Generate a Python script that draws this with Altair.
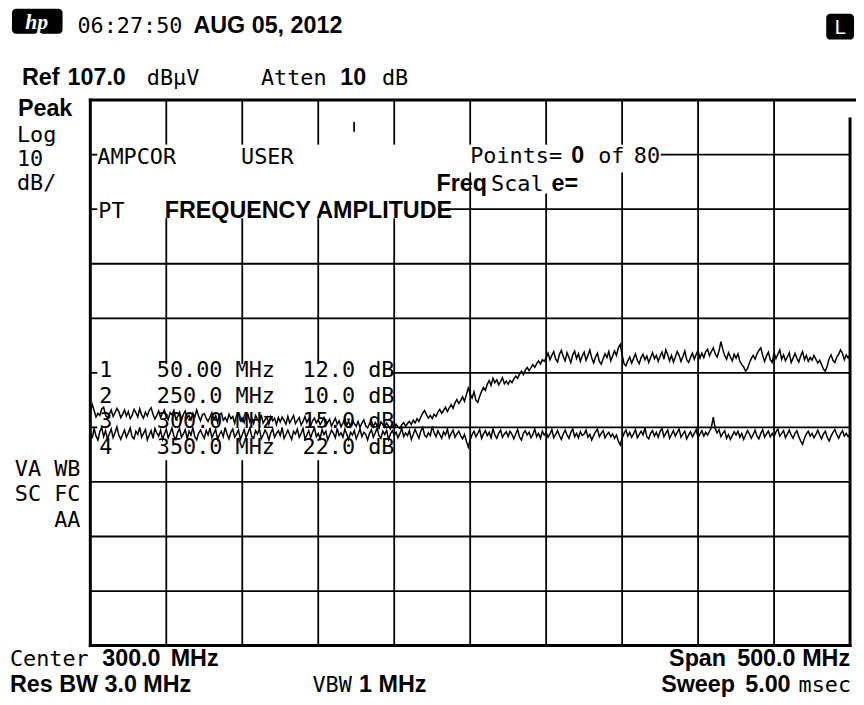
import altair as alt
import pandas as pd
import numpy as np

# ---------------- data (read from the screen) ----------------
# 401-point sweeps, 50 .. 550 MHz, amplitudes in dBuV
# Trace 1 (upper, with amplitude correction applied)
trace_upper = [
    49.8, 51.2, 50.1, 48.9, 49.6, 49.2, 50.4, 50.7, 49.3, 48.7, 49.4, 50.2, 49.0, 49.7, 50.5, 49.9, 48.8, 49.4, 50.2, 49.1,
    49.9, 48.6, 49.2, 50.3, 49.7, 48.9, 50.4, 49.3, 48.7, 49.8, 49.1, 50.1, 50.6, 49.4, 48.5, 49.2, 50.0, 48.8, 49.6, 50.2,
    48.9, 48.4, 49.7, 49.3, 50.1, 48.6, 49.0, 49.8, 48.3, 49.4, 50.0, 48.7, 49.2, 48.4, 49.6, 48.9, 50.2, 49.1, 48.2, 49.3,
    49.5, 48.7, 48.1, 48.9, 49.7, 48.4, 49.2, 47.9, 49.3, 49.6, 48.3, 48.8, 48.1, 49.4, 48.6, 49.0, 47.8, 49.2, 49.5, 48.2,
    48.7, 47.9, 49.1, 49.4, 48.0, 48.6, 47.7, 49.2, 48.5, 48.0, 49.3, 47.8, 48.4, 48.9, 47.6, 49.0, 48.2, 48.7, 47.5, 48.8,
    48.0, 48.9, 48.3, 47.6, 49.0, 47.8, 48.5, 49.2, 47.7, 48.3, 48.8, 47.4, 48.1, 49.0, 47.9, 48.6, 47.3, 48.2, 48.7, 47.8,
    48.4, 47.5, 48.1, 48.8, 47.3, 47.9, 48.5, 47.2, 48.0, 48.7, 47.6, 48.2, 47.1, 47.8, 48.6, 47.4, 48.1, 47.2, 48.3, 47.7,
    47.2, 48.1, 47.0, 47.8, 48.4, 47.3, 46.9, 47.7, 48.2, 47.1, 47.9, 47.4, 46.8, 48.0, 47.5, 47.0, 47.8, 47.3, 46.7, 47.6,
    46.9, 47.6, 47.1, 46.8, 47.5, 47.9, 47.2, 47.7, 48.1, 47.5, 48.3, 47.8, 48.6, 48.1, 48.9, 49.6, 50.1, 49.3, 48.7, 49.2,
    48.6, 49.4, 49.0, 49.8, 50.3, 49.6, 50.1, 50.7, 49.9, 50.6, 51.2, 50.5, 51.5, 52.1, 51.4, 51.9, 52.6, 51.8, 53.0, 54.2,
    53.1, 52.4, 53.5, 52.0, 51.6, 52.7, 53.6, 54.3, 53.8, 54.9, 55.6, 54.7, 56.0, 55.2, 55.7, 54.8, 55.4, 56.1, 55.0, 55.5,
    54.9, 55.6, 55.2, 55.9, 56.4, 56.0, 56.8, 57.3, 56.7, 57.5, 58.0, 57.4, 57.9, 58.5, 58.0, 58.7, 59.2, 58.6, 59.4, 59.1,
    59.8, 60.6, 59.4, 60.2, 60.9, 59.5, 59.0, 60.4, 61.1, 60.0, 59.2, 60.7, 59.8, 58.9, 60.3, 61.0, 59.6, 60.5, 59.1, 60.1,
    60.8, 59.3, 60.2, 61.2, 59.7, 58.8, 59.9, 60.6, 59.1, 58.6, 59.6, 60.5, 59.8, 60.9, 59.2, 60.1, 61.0, 60.2, 61.6, 62.2,
    60.3, 58.7, 58.3, 59.2, 59.9, 58.8, 59.6, 60.5, 59.3, 58.7, 59.8, 60.4, 59.4, 60.1, 58.9, 59.8, 60.7, 59.6, 60.2, 59.1,
    60.1, 60.8, 59.5, 61.2, 60.3, 59.2, 60.2, 59.0, 59.9, 60.9, 60.2, 59.1, 60.0, 61.0, 59.4, 58.9, 59.8, 60.6, 59.5, 60.4,
    61.1, 59.7, 60.6, 59.8, 60.9, 61.3, 60.1, 60.9, 61.6, 60.5, 59.9, 61.0, 62.7, 61.3, 60.2, 59.5, 60.7, 59.9, 59.2, 60.4,
    59.7, 60.5, 59.1, 58.5, 58.1, 57.3, 57.8, 58.8, 59.6, 60.2, 59.5, 60.5, 61.1, 61.6, 60.2, 59.1, 60.1, 60.8, 59.4, 58.9,
    60.7, 59.6, 60.4, 61.2, 59.5, 60.3, 59.2, 59.9, 60.7, 58.9, 59.7, 60.6, 59.7, 59.0, 60.1, 60.9, 59.4, 60.2, 59.1, 59.8,
    59.3, 60.2, 59.5, 58.8, 59.3, 58.5, 57.7, 57.3, 58.3, 59.6, 60.3, 59.3, 58.9, 59.9, 60.4, 61.2, 60.6, 59.4, 60.3, 59.7,
    60.4,
]
# Trace 2 (lower, uncorrected noise floor)
trace_lower = [
    46.3, 45.0, 46.8, 45.4, 44.7, 46.2, 47.0, 45.3, 46.4, 44.9, 45.8, 46.7, 45.1, 46.0, 47.1, 45.6, 44.8, 45.7, 46.5, 45.2,
    46.0, 46.9, 45.3, 44.9, 46.3, 45.7, 47.0, 45.2, 45.9, 46.6, 44.7, 45.6, 46.4, 45.0, 46.8, 46.0, 45.4, 46.5, 44.8, 45.8,
    46.7, 45.1, 45.9, 46.9, 45.4, 44.8, 46.1, 46.8, 45.2, 45.8, 46.6, 44.9, 46.3, 45.6, 47.0, 45.3, 44.7, 45.9, 46.5, 45.7,
    45.0, 46.4, 45.6, 46.9, 45.1, 45.9, 46.6, 44.8, 45.7, 46.3, 45.3, 47.0, 45.8, 44.9, 46.1, 46.7, 45.2, 45.8, 46.5, 44.8,
    45.7, 46.6, 45.1, 46.0, 46.9, 45.3, 45.0, 46.4, 45.8, 46.8, 44.9, 45.6, 46.5, 45.9, 44.7, 46.0, 46.7, 45.2, 45.9, 46.4,
    45.5, 47.0, 45.0, 45.7, 46.5, 45.6, 44.8, 46.3, 45.8, 46.7, 45.2, 45.9, 46.8, 44.9, 45.6, 46.4, 45.1, 46.1, 46.9, 45.3,
    45.9, 45.0, 46.6, 45.7, 46.3, 44.7, 45.6, 46.5, 45.9, 45.1, 46.8, 45.5, 46.0, 45.2, 46.7, 45.8, 44.8, 46.1, 45.6, 46.4,
    44.9, 45.8, 46.7, 45.3, 46.1, 45.7, 44.7, 45.9, 46.6, 45.2, 46.0, 46.9, 45.5, 45.0, 46.3, 45.7, 46.5, 44.8, 45.8, 46.4,
    45.6, 46.1, 45.1, 45.9, 46.8, 45.3, 46.0, 45.5, 46.4, 44.8, 45.7, 46.6, 45.8, 45.0, 46.3, 47.0, 45.6, 45.2, 46.0, 45.5,
    47.2, 46.0, 45.3, 46.4, 45.7, 45.0, 46.2, 45.6, 46.7, 45.1, 45.9, 46.5, 45.2, 45.8, 46.3, 45.5, 44.9, 45.7, 44.5, 43.4,
    44.7, 45.7, 46.3, 45.3, 45.9, 46.6, 45.0, 45.8, 46.4, 45.5, 46.1, 45.1, 46.8, 45.6, 45.0, 45.9, 46.5, 45.2, 45.8, 46.2,
    45.3, 46.3, 45.7, 44.9, 45.8, 46.6, 45.2, 44.7, 45.9, 46.4, 45.6, 46.1, 45.1, 45.7, 46.7, 45.3, 45.9, 45.0, 46.3, 45.6,
    46.1, 45.2, 45.8, 46.6, 45.1, 45.7, 46.4, 45.5, 44.8, 45.8, 46.5, 45.6, 45.0, 46.1, 46.7, 45.3, 45.9, 45.1, 46.2, 45.5,
    45.8, 46.5, 45.2, 45.7, 44.7, 45.5, 46.2, 46.7, 45.3, 45.9, 46.4, 45.1, 45.7, 46.1, 45.3, 45.8, 45.0, 45.6, 44.5, 43.8,
    45.0, 45.9, 46.5, 45.4, 46.1, 45.2, 45.8, 46.6, 45.1, 45.7, 46.3, 45.6, 46.9, 45.3, 44.9, 45.9, 46.4, 45.4, 46.1, 45.2,
    46.3, 46.8, 45.3, 45.9, 46.5, 45.0, 45.7, 46.4, 45.4, 46.1, 46.7, 45.2, 45.8, 46.3, 44.9, 45.6, 46.2, 45.3, 45.9, 46.6,
    45.1, 45.8, 46.4, 45.4, 46.1, 45.6, 46.3, 47.0, 48.9, 46.8, 46.0, 46.6, 45.3, 45.9, 46.4, 45.0, 45.7, 44.8, 45.5, 46.2,
    45.6, 46.3, 45.2, 45.9, 44.8, 45.6, 46.4, 45.8, 45.0, 45.7, 46.5, 45.4, 44.9, 45.9, 46.6, 45.2, 45.8, 46.3, 45.3, 45.9,
    45.3, 46.2, 46.7, 45.4, 45.9, 46.4, 45.1, 45.8, 46.5, 45.6, 45.0, 45.9, 46.4, 45.3, 44.5, 43.9, 45.0, 45.8, 46.3, 45.4,
    45.9, 45.1, 45.7, 46.5, 45.6, 44.9, 45.8, 46.3, 45.2, 44.5, 45.4, 46.1, 46.6, 45.7, 45.0, 45.8, 46.4, 45.4, 45.9, 45.3,
    45.7,
]

START_MHZ, STOP_MHZ = 50.0, 550.0       # Center 300 MHz, Span 500 MHz
REF_DB, DB_PER_DIV, NDIV = 107.0, 10.0, 10
BOTTOM_DB = REF_DB - DB_PER_DIV * NDIV

# ---------------- layout ----------------
W, H = 766, 550            # plot area (10 x 10 divisions)
LEFT, TOP = 91, 98         # page position of the graticule's top-left corner


def fx(px):
    return START_MHZ + (px - LEFT) * (STOP_MHZ - START_MHZ) / W


def fy(py):
    return REF_DB - (py - TOP) * (REF_DB - BOTTOM_DB) / H


xs = alt.Scale(domain=[START_MHZ, STOP_MHZ], nice=False, zero=False)
ys = alt.Scale(domain=[BOTTOM_DB, REF_DB], nice=False, zero=False)

# ---------------- traces ----------------
traces = pd.concat([
    pd.DataFrame({"f": np.linspace(START_MHZ, STOP_MHZ, len(trace_upper)),
                  "a": trace_upper, "t": "upper"}),
    pd.DataFrame({"f": np.linspace(START_MHZ, STOP_MHZ, len(trace_lower)),
                  "a": trace_lower, "t": "lower"}),
])
trace_layer = alt.Chart(traces).mark_line(color="black", strokeWidth=1.5).encode(
    x=alt.X("f:Q", scale=xs, axis=None),
    y=alt.Y("a:Q", scale=ys, axis=None),
    detail="t:N",
)

# ---------------- graticule ----------------
seg = []
# horizontal graticule lines: level -> list of (from MHz, to MHz)
h_parts = {
    97: [(50, 54), (fx(667), 550)],
    87: [(50, 54), (fx(450), 550)],
    77: [(50, 550)],
    67: [(50, 550)],
    57: [(50, 54), (fx(395), 550)],
    47: [(50, 54), (fx(395), 550)],
    37: [(50, 550)],
    27: [(50, 550)],
    17: [(50, 550)],
}
for lvl, parts in h_parts.items():
    for a, b in parts:
        seg.append((a, b, lvl, lvl))
# vertical graticule lines: freq -> list of (top dB, bottom dB)
v_parts = {
    100: [(107, fy(142)), (fy(218), fy(363)), (fy(462), 7)],
    150: [(107, fy(142)), (fy(218), fy(363)), (fy(462), 7)],
    200: [(107, fy(142)), (fy(218), fy(363)), (fy(462), 7)],
    250: [(107, fy(142)), (fy(218), 7)],
    300: [(107, fy(142)), (fy(172), 7)],
    350: [(107, fy(142)), (fy(193), 7)],
    400: [(107, fy(142)), (fy(172), 7)],
    450: [(107, 7)],
    500: [(107, 7)],
}
for f, parts in v_parts.items():
    for a, b in parts:
        seg.append((f, f, a, b))
seg.append((fx(357), fx(357), fy(121), fy(129)))
grid_df = pd.DataFrame(seg, columns=["x", "x2", "y", "y2"])

border = [
    (50, fx(863), 107, 107),
    (50, 550, 7, 7),
    (50, 50, 107, 7),
    (550, 550, fy(117), 7),
]
border_df = pd.DataFrame(border, columns=["x", "x2", "y", "y2"])


def rules(df, width):
    return alt.Chart(df).mark_rule(color="black", strokeWidth=width, strokeCap="square").encode(
        x=alt.X("x:Q", scale=xs, axis=None), x2="x2:Q",
        y=alt.Y("y:Q", scale=ys, axis=None), y2="y2:Q",
    )


grid_layer = rules(grid_df, 1.8)
border_layer = rules(border_df, 3)

# ---------------- annotations ----------------
MONO = "DejaVu Sans Mono"
BOLD = "Liberation Sans"

mono_texts = [
    ("06:27:50", 78, 30),
    ("dB\u03bcV", 148, 83), ("Atten", 263, 83), ("dB", 385, 83),
    ("Log", 17, 140), ("10", 17, 164), ("dB/", 17, 189),
    ("AMPCOR", 98, 162), ("USER", 243, 162),
    ("Points=", 474, 161), ("of", 603, 161), ("80", 639, 161),
    ("Scal", 495, 190), ("PT", 99, 217),
    ("1", 100, 377), ("50.00 MHz", 158, 377), ("12.0 dB", 305, 377),
    ("2", 100, 403), ("250.0 MHz", 158, 403), ("10.0 dB", 305, 403),
    ("3", 100, 429), ("300.0 MHz", 158, 429), ("15.0 dB", 305, 429),
    ("4", 100, 455), ("350.0 MHz", 158, 455), ("22.0 dB", 305, 455),
    ("Center", 10, 669), ("VBW", 315, 695),
]
mono_right = [("VA WB", 81, 477), ("SC FC", 81, 502), ("AA", 81, 528),
              ("msec", 858, 695)]
bold_texts = [
    ("AUG 05, 2012", 195, 30),
    ("Ref", 22, 83), ("107.0", 68, 83), ("10", 343, 83),
    ("Peak", 18, 114),
    ("0", 576, 161), ("Freq", 440, 190), ("e=", 556, 190),
    ("FREQUENCY AMPLITUDE", 166, 217),
    ("300.0", 103, 669), ("MHz", 172, 669),
    ("Res BW 3.0 MHz", 10, 695), ("1 MHz", 362, 695),
]
bold_right = [
    ("Span", 732, 669), ("500.0", 802, 669), ("MHz", 857, 669),
    ("Sweep", 741, 695), ("5.00", 797, 695),
]


def tdf(items):
    return pd.DataFrame([(t, fx(px), fy(py)) for t, px, py in items], columns=["t", "x", "y"])


def text_layer(items, font, weight, align="left", size=22, color="black"):
    return alt.Chart(tdf(items)).mark_text(
        align=align, baseline="alphabetic", font=font, fontWeight=weight,
        fontSize=size, color=color,
    ).encode(
        x=alt.X("x:Q", scale=xs, axis=None),
        y=alt.Y("y:Q", scale=ys, axis=None),
        text="t:N",
    )


# black badges: hp logo and "L" indicator
badges = pd.DataFrame([
    (fx(12), fx(63), fy(6), fy(31)),
    (fx(833), fx(861), fy(11), fy(37)),
], columns=["x", "x2", "y", "y2"])
badge_layer = alt.Chart(badges).mark_rect(color="black", cornerRadius=4).encode(
    x=alt.X("x:Q", scale=xs, axis=None), x2="x2:Q",
    y=alt.Y("y:Q", scale=ys, axis=None), y2="y2:Q",
)
logo_text = alt.Chart(tdf([("hp", 37, 26)])).mark_text(
    align="center", baseline="alphabetic", font="Liberation Serif",
    fontStyle="italic", fontWeight="bold", fontSize=22, color="white",
).encode(x=alt.X("x:Q", scale=xs, axis=None), y=alt.Y("y:Q", scale=ys, axis=None), text="t:N")
l_text = text_layer([("L", 847, 31)], MONO, "normal", align="center", size=20, color="white")

BSIZE = 23.5
chart = alt.layer(
    grid_layer,
    border_layer,
    trace_layer,
    text_layer(mono_texts, MONO, "normal"),
    text_layer(mono_right, MONO, "normal", align="right"),
    text_layer(bold_texts, BOLD, "bold", size=BSIZE),
    text_layer(bold_right, BOLD, "bold", align="right", size=BSIZE),
    badge_layer,
    logo_text,
    l_text,
).properties(
    width=W, height=H,
    padding={"left": LEFT - 8, "top": TOP - 8, "right": 6, "bottom": 52},
    autosize=alt.AutoSizeParams(type="none"),
    background="white",
).configure_view(stroke=None)

chart.save("out.html", embed_options={"renderer": "svg", "actions": False})
